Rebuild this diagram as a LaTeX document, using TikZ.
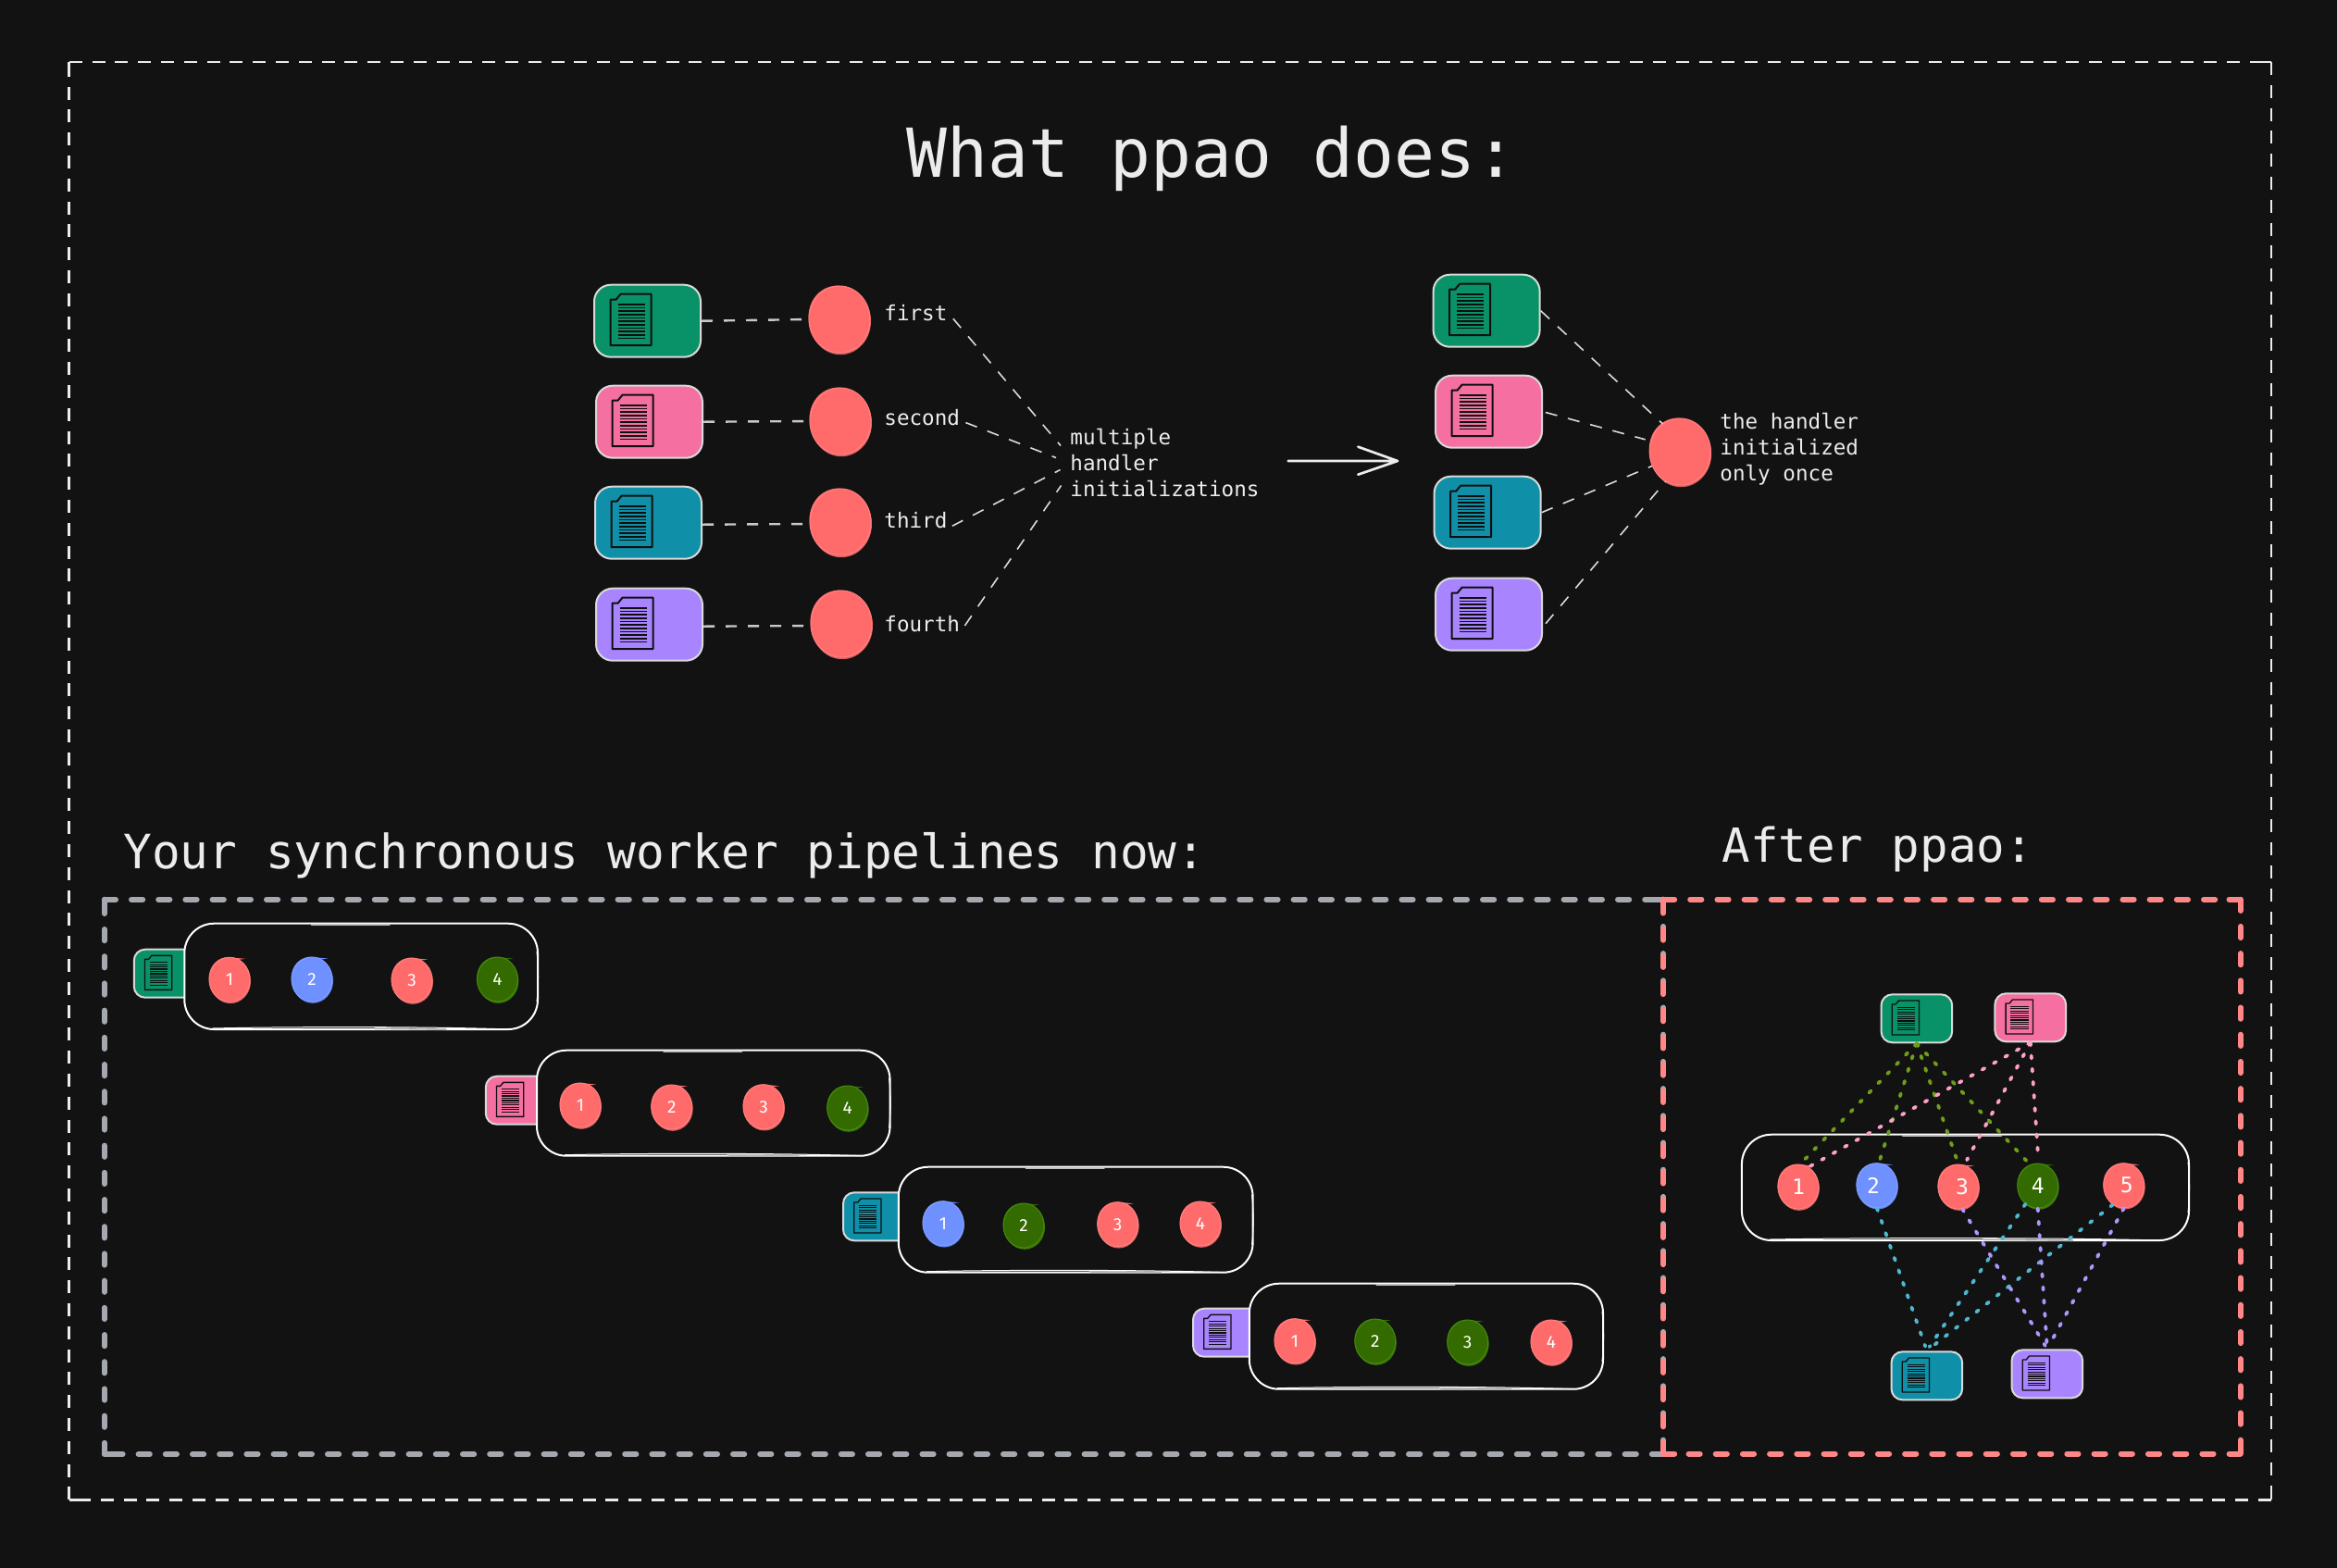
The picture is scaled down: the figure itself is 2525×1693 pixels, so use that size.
\documentclass[tikz,border=0pt]{standalone}
\usepackage{fontspec}
\usetikzlibrary{shapes.geometric}
\setmainfont{DejaVu Sans Mono}
\newfontfamily\digfont{Fira Sans}
\definecolor{bgc}{HTML}{121212}
\definecolor{inkc}{HTML}{ECECEC}
\definecolor{docG}{HTML}{099268}
\definecolor{docP}{HTML}{F56FA1}
\definecolor{docT}{HTML}{1090A8}
\definecolor{docV}{HTML}{A885FF}
\definecolor{ballR}{HTML}{FF6B6B}
\definecolor{ballRd}{HTML}{D95F5F}
\definecolor{ballRl}{HTML}{FF8080}
\definecolor{ballB}{HTML}{6F90FF}
\definecolor{ballBd}{HTML}{5F7FE8}
\definecolor{ballBl}{HTML}{7FA0FF}
\definecolor{ballG}{HTML}{346B00}
\definecolor{ballGd}{HTML}{3B7A08}
\definecolor{ballGl}{HTML}{448A10}
\definecolor{lnO}{HTML}{6F9E1A}
\definecolor{lnP}{HTML}{FFA0C8}
\definecolor{lnT}{HTML}{4DB8D0}
\definecolor{lnV}{HTML}{B197FC}
\definecolor{frameG}{HTML}{A5A9AF}
\definecolor{frameP}{HTML}{FF8787}
\tikzset{
  x=0.5pt,y=-0.5pt,
  lab/.style={text=inkc,inner sep=0pt,anchor=base west,font=\fontsize{11.3}{14}\selectfont},
  head/.style={text=inkc,inner sep=0pt,anchor=base west},
  dashA/.style={draw=inkc!85!black,line width=1.2pt,dash pattern=on 6pt off 6pt},
  dashB/.style={draw=inkc!92!black,line width=0.8pt,dash pattern=on 6.5pt off 6pt},
  dotln/.style={line width=1.9pt,line cap=round,dash pattern=on 1.5pt off 5.6pt},
  docbox/.style={draw=inkc!92!black,line width=1pt,inner sep=0pt},
  pipe/.style={draw=white,line width=1pt,fill=bgc,rounded corners=16pt,inner sep=0pt},
  blobn/.style={ellipse,inner sep=0pt,line width=0.5pt,text=white},
}
% frame: every side starts with a dash at each corner
\newcommand{\dashframe}[6]{%
  \draw[#5] (#1,#2)--(#3,#2) (#3,#2)--(#3,#4) (#3,#4)--(#1,#4) (#1,#4)--(#1,#2)
     (#3,#2)--(#3-#6,#2) (#3,#4)--(#3,#4-#6) (#1,#4)--(#1+#6,#4) (#1,#2)--(#1,#2+#6);}
\newcommand{\docicon}[3]{%
  \begin{scope}[shift={(#1,#2)},scale=#3,draw=bgc!85!black,line join=round]
    \draw[line width={#3*1pt}] (0,6)--(6,6)--(11,0)--(44,0)--(44,55.5)--(0,55.5)--cycle;
    \foreach \i in {0,...,10}{\draw[line width={#3*0.85pt}] (8,{11+3.67*\i})--(37,{11+3.67*\i});}
  \end{scope}}
\newcommand{\docnode}[5]{% name, left, top, colour, scale
  \node[docbox,fill=#4,rounded corners={9pt*#5},minimum width={57.5pt*#5},minimum height={39pt*#5}]
    (#1) at ({#2+57.5*#5},{#3+39*#5}) {};
  \docicon{#2+17.5*#5}{#3+10*#5}{#5}}
\newcommand{\pipebox}[5]{% name,x1,y1,x2,y2
  \node[pipe,minimum width={(#4-#2)*0.5pt},minimum height={(#5-#3)*0.5pt}] (#1) at ({(#2+#4)/2},{(#3+#5)/2}) {};
  \draw[black!25!white,line width=1.2pt,line cap=round] ({#2+0.36*(#4-#2)},#3+1)--({#2+0.58*(#4-#2)},#3+1);
  \draw[black!28!white,line width=1pt,line cap=round] ({#2+0.54*(#4-#2)},#5-1)--({#2+0.74*(#4-#2)},#5);
  \draw[white,line width=0.5pt] (#2+30,#5-1) .. controls ({#2+0.3*(#4-#2)},#5-3) and ({#2+0.7*(#4-#2)},#5-3) .. (#4-30,#5);
  \draw[white,line width=0.5pt] (#4-1,#3+30) .. controls (#4+1,#3+50) and (#4+1,#5-50) .. (#4-1,#5-30);}
\newcommand{\ball}[6]{% name,x,y,colour,font,label
  \fill[ball#4d] (#2+1,#3+1.8) ellipse (22 and 24);
  \fill[ball#4] (#2,#3-24) -- (#2+17,#3-22.5) -- (#2,#3-20) -- cycle;
  \fill[ball#4,rotate around={20:(#2,#3)}] (#2,#3) ellipse (22 and 24.5);
  \node[blobn,fill=ball#4,draw=ball#4l,minimum width=22pt,minimum height=24pt,font=#5] (#1) at (#2,#3) {#6};}
\newcommand{\bigball}[3]{% name,x,y
  \fill[ballRd] (#2+1,#3+2) ellipse (33 and 36.2);
  \fill[ballR,rotate around={20:(#2,#3)}] (#2,#3) ellipse (33 and 36.8);
  \node[blobn,fill=ballR,draw=ballRl,minimum width=33pt,minimum height=36pt] (#1) at (#2,#3) {};}
\newcommand{\hand}{\digfont\fontsize{9.5}{10}\selectfont}
\newcommand{\numf}{\fontsize{11.5}{12}\selectfont}
\begin{document}
\begin{tikzpicture}
\useasboundingbox (0,0) rectangle (2525,1693);
\fill[bgc] (-10,-10) rectangle (2535,1703);
% frames
\dashframe{74.7}{67}{2454}{1620.3}{draw=inkc,line width=1.25pt,dash pattern=on 7pt off 5.4pt}{14}
\dashframe{112.8}{971.7}{1797}{1571}{draw=frameG,line width=3pt,line cap=round,dash pattern=on 6.1pt off 8.5pt}{12.5}
\dashframe{1797}{971.7}{2420.7}{1570.5}{draw=frameP,line width=3pt,line cap=round,dash pattern=on 6.1pt off 8.5pt}{12.5}
% headings
\node[head,font=\fontsize{36.5}{40}\selectfont] (title) at (979,191) {What ppao does:};
\node[head,font=\fontsize{25.55}{28}\selectfont] (sync) at (133,938.3) {Your synchronous worker pipelines now:};
\node[head,font=\fontsize{25.4}{28}\selectfont] (after) at (1860,931.7) {After ppao:};
% upper left
\docnode{la}{642}{307.7}{docG}{1}
\docnode{lb}{644}{416.7}{docP}{1}
\docnode{lc}{643}{525.7}{docT}{1}
\docnode{ld}{644}{635.7}{docV}{1}
\bigball{ha}{907}{345}
\bigball{hb}{908}{455}
\bigball{hc}{908}{564}
\bigball{hd}{909}{674}
\draw[dashA,shorten >=2pt] (la.east) -- (ha.west);
\draw[dashA,shorten >=2pt] (lb.east) -- (hb.west);
\draw[dashA,shorten >=2pt] ([yshift=-1pt]lc.east) -- ([yshift=-1pt]hc.west);
\draw[dashA,shorten >=2pt] ([yshift=-1pt]ld.east) -- ([yshift=-1pt]hd.west);
\node[lab] (tfirst) at (955,346.7) {first};
\node[lab] (tsecond) at (955,459) {second};
\node[lab] (tthird) at (955,570.7) {third};
\node[lab] (tfourth) at (955,682.3) {fourth};
\node[lab,align=left] (tmany) at (1156,536) {multiple\\handler\\initializations};
\draw[dashB] ([shift={(6,6)}]tfirst.east) -- ([shift={(-10,-18)}]tmany.west);
\draw[dashB] ([shift={(6,6)}]tsecond.east) -- ([shift={(-15,-5)}]tmany.west);
\draw[dashB] ([shift={(5,6)}]tthird.east) -- ([shift={(-10.5,8)}]tmany.west);
\draw[dashB] ([shift={(5,2)}]tfourth.east) -- ([shift={(-9.5,25)}]tmany.west);
% arrow
\coordinate (arA) at (1391.7,498);
\coordinate (arB) at (1510,498);
\coordinate (arC) at (1467.3,482.7);
\coordinate (arD) at (1467.3,512.7);
\draw[inkc,line width=1.35pt,line cap=round,line join=round] (arA) -- (arB) (arC) -- (arB) -- (arD);
% upper right
\docnode{ra}{1548.6}{296.7}{docG}{1}
\docnode{rb}{1551}{405.7}{docP}{1}
\docnode{rc}{1549.6}{514.7}{docT}{1}
\docnode{rd}{1551}{624.7}{docV}{1}
\bigball{hh}{1815.2}{488}
\draw[dashB] (ra.east) -- (hh.122);
\draw[dashB,shorten <=1.5pt,shorten >=3pt] (rb.east) -- (hh.160);
\draw[dashB] (rc.east) -- (hh.207);
\draw[dashB] ([shift={(3,10)}]rd.east) -- (hh.244);
\node[lab,align=left] (tonce) at (1858,519.3) {the handler\\initialized\\only once};
% pipeline 1
\docnode{pa}{144.8}{1025.7}{docG}{0.6667}
\pipebox{qa}{199.3}{997.7}{581}{1112}
\ball{a1}{248}{1058.3}{R}{\hand}{1}
\ball{a2}{337}{1058}{B}{\hand}{2}
\ball{a3}{445}{1059}{R}{\hand}{3}
\ball{a4}{537.4}{1058}{G}{\hand}{4}
% pipeline 2
\docnode{pb}{524.8}{1162.7}{docP}{0.6667}
\pipebox{qb}{580}{1134.7}{961.6}{1248.7}
\ball{b1}{627}{1194}{R}{\hand}{1}
\ball{b2}{725.7}{1196}{R}{\hand}{2}
\ball{b3}{825}{1195.7}{R}{\hand}{3}
\ball{b4}{915.7}{1197}{G}{\hand}{4}
% pipeline 3
\docnode{pc}{911}{1288.3}{docT}{0.6667}
\pipebox{qc}{970.8}{1260.7}{1353.6}{1374.7}
\ball{c1}{1019}{1321.7}{B}{\hand}{1}
\ball{c2}{1106}{1324}{G}{\hand}{2}
\ball{c3}{1207.7}{1322.7}{R}{\hand}{3}
\ball{c4}{1297}{1322}{R}{\hand}{4}
% pipeline 4
\docnode{pd}{1289}{1413.7}{docV}{0.6667}
\pipebox{qd}{1349.8}{1386.7}{1732}{1500.7}
\ball{d1}{1399}{1448.7}{R}{\hand}{1}
\ball{d2}{1485.8}{1449}{G}{\hand}{2}
\ball{d3}{1585.7}{1450}{G}{\hand}{3}
\ball{d4}{1676}{1450}{R}{\hand}{4}
% after panel
\pipebox{qe}{1881.9}{1225.7}{2365}{1340}
\docnode{sa}{2032.5}{1074.3}{docG}{0.6667}
\docnode{sb}{2155.4}{1073.3}{docP}{0.6667}
\docnode{sc}{2043.5}{1460.3}{docT}{0.6667}
\docnode{sd}{2173.5}{1458.3}{docV}{0.6667}
\ball{e1}{1942.9}{1282}{R}{\numf}{1}
\ball{e2}{2027.9}{1280.7}{B}{\numf}{\makebox[0pt][c]{2\kern4pt}}
\ball{e3}{2115.9}{1282}{R}{\numf}{\makebox[0pt][c]{\kern4pt 3}}
\ball{e4}{2201.7}{1281}{G}{\numf}{4}
\ball{e5}{2294.7}{1280.7}{R}{\numf}{\makebox[0pt][c]{\kern3pt 5}}
\draw[dotln,lnO] (sa.south) -- (e1.85);
\draw[dotln,lnO] (sa.south) -- (e2.85);
\draw[dotln,lnO,shorten >=3.5pt] (sa.south) -- (e3.north);
\draw[dotln,lnO,shorten >=2.5pt] (sa.south) -- (e4.110);
\draw[dotln,lnP] (sb.south) -- (e1.62);
\draw[dotln,lnP,shorten >=3pt] (sb.south) -- (e3.75);
\draw[dotln,lnP,shorten >=2.5pt] (sb.south) -- (e4.88);
\draw[dotln,lnT,shorten >=2.5pt] (e2.south) -- (sc.north);
\draw[dotln,lnT,shorten >=2.5pt] (e4.236) -- (sc.north);
\draw[dotln,lnT,shorten >=2.5pt] (e5.240) -- (sc.north);
\draw[dotln,lnV,shorten >=2pt] (e3.280) -- (sd.north);
\draw[dotln,lnV,shorten >=2pt] (e4.south) -- (sd.north);
\draw[dotln,lnV,shorten >=2pt] (e5.south) -- (sd.north);
\end{tikzpicture}
\end{document}
